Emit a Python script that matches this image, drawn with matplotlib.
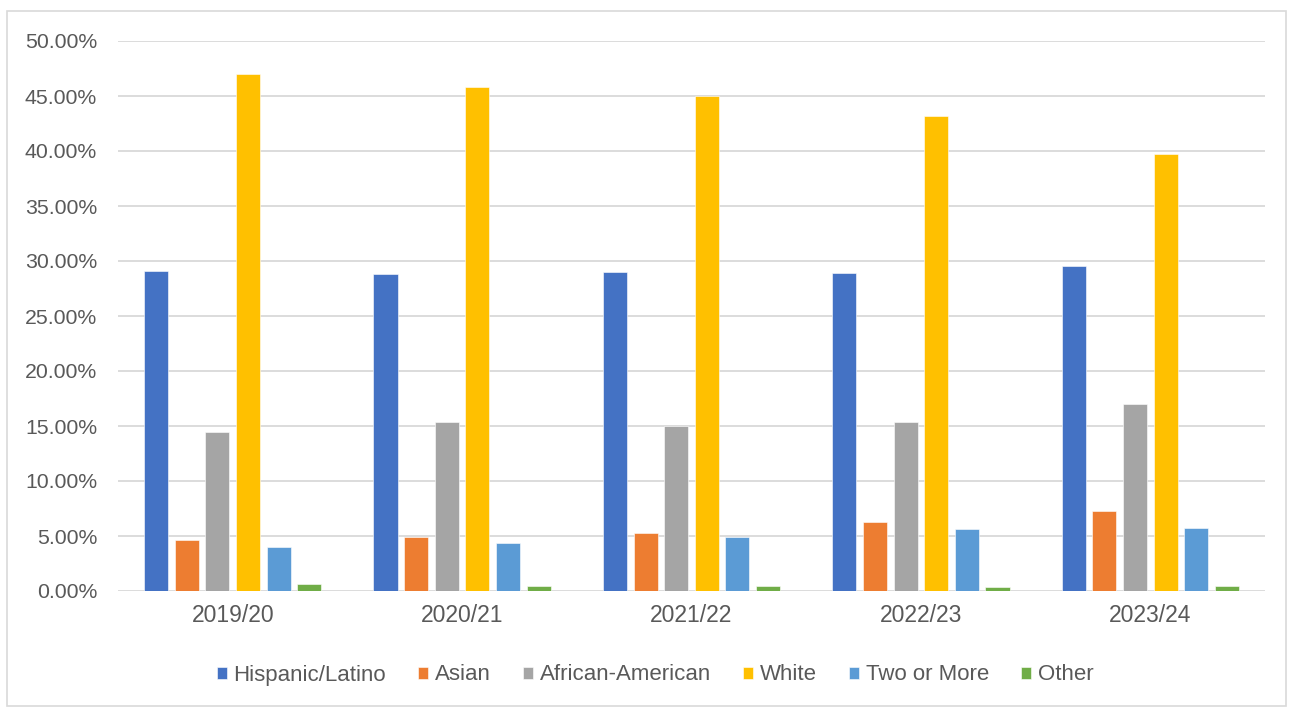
import numpy as np
import matplotlib.pyplot as plt
from matplotlib.patches import Rectangle
from matplotlib.ticker import FuncFormatter

years = ["2019/20", "2020/21", "2021/22", "2022/23", "2023/24"]
groups = ["Hispanic/Latino", "Asian", "African-American", "White", "Two or More", "Other"]
colors = ["#4472C4", "#ED7D31", "#A5A5A5", "#FFC000", "#5B9BD5", "#70AD47"]

hispanic = [29.13, 28.79, 29.03, 28.91, 29.52]
asian = [4.67, 4.94, 5.27, 6.30, 7.25]
african_american = [14.45, 15.40, 15.03, 15.40, 17.04]
white = [47.00, 45.84, 45.03, 43.15, 39.76]
two_or_more = [4.00, 4.34, 4.94, 5.64, 5.76]
other = [0.61, 0.49, 0.49, 0.37, 0.49]

series = [hispanic, asian, african_american, white, two_or_more, other]

plt.rcParams['font.family'] = ['Liberation Sans', 'DejaVu Sans']

W, H = 1293, 709
fig = plt.figure(figsize=(W / 100, H / 100), dpi=100)
fig.patches.append(Rectangle((7 / W, 1 - 706 / H), 1279 / W, 695 / H,
                             transform=fig.transFigure, fill=False,
                             edgecolor="#d9d9d9", linewidth=1.2))

ax = fig.add_axes([118 / W, 1 - 591 / H, (1265 - 118) / W, 550 / H])

x = np.arange(len(years))
pitch = 0.1335
width = 0.105
for j, (name, vals) in enumerate(zip(groups, series)):
    ax.bar(x + (j - 2.5) * pitch, vals, width, color=colors[j], label=name,
           edgecolor="white", linewidth=0.4, zorder=3)

ax.set_xlim(-0.5, len(years) - 0.5)
ax.set_ylim(0, 50)
ax.set_yticks(np.arange(0, 50.1, 5))
ax.yaxis.set_major_formatter(FuncFormatter(lambda v, p: "%.2f%%" % v))
ax.set_xticks(x)
ax.set_xticklabels(years)
ax.grid(axis="y", color="#d9d9d9", linewidth=1.3, zorder=0)
for s in ax.spines.values():
    s.set_visible(False)
ax.tick_params(length=0, labelcolor="#595959")
ax.tick_params(axis="y", pad=15, labelsize=15.3)
ax.tick_params(axis="x", pad=9, labelsize=16.5)

fig.legend(loc="center", bbox_to_anchor=(655 / W, 1 - 675 / H), ncol=6,
           frameon=False, fontsize=16, labelcolor="#595959",
           handlelength=0.45, handleheight=0.45, handletextpad=0.3, columnspacing=1.45)

plt.savefig("out.png", dpi=100)
